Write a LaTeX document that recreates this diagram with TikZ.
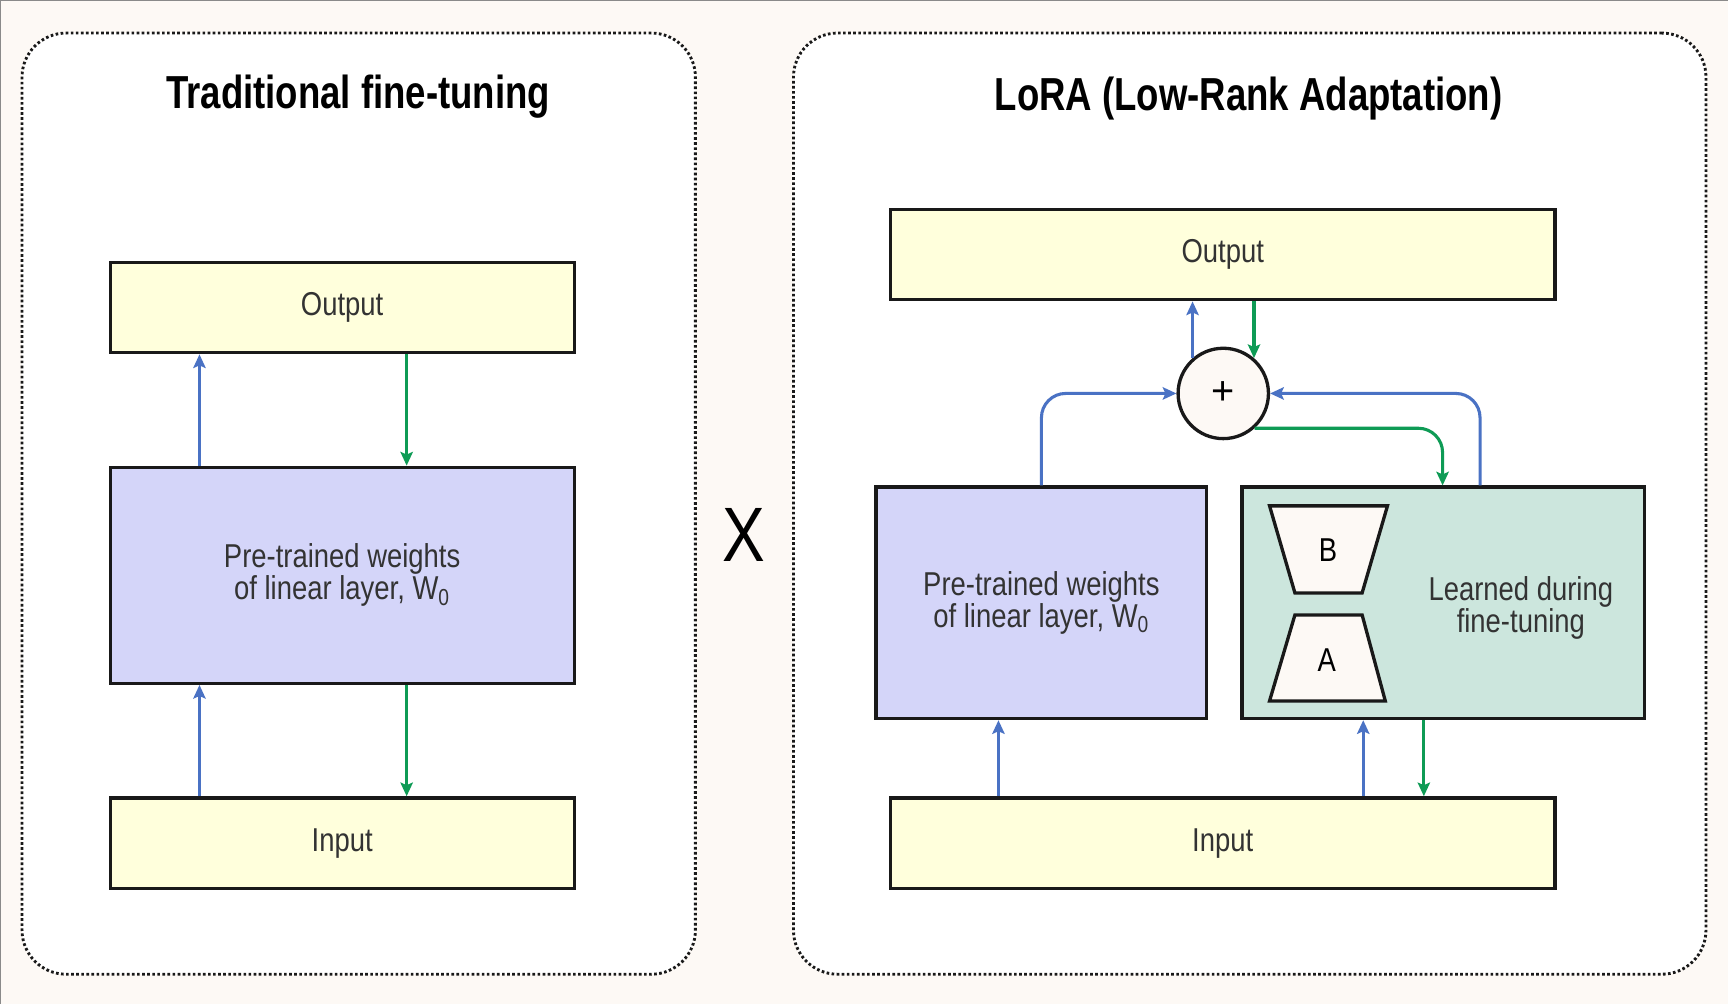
\documentclass[tikz,border=0pt]{standalone}
\usepackage{fontspec}
\setmainfont{Liberation Sans}
\newfontfamily\narrowfont[FakeStretch=0.83]{Liberation Sans}
\newfontfamily\titlefont[FakeStretch=0.79]{Liberation Sans}
\usetikzlibrary{arrows.meta,fit}
\definecolor{bgcream}{HTML}{FDF9F5}
\definecolor{ioyellow}{HTML}{FFFFDC}
\definecolor{lav}{HTML}{D4D5F9}
\definecolor{mint}{HTML}{CCE6DD}
\definecolor{txtgray}{HTML}{333333}
\definecolor{arrowblue}{HTML}{4A72C4}
\definecolor{arrowgreen}{HTML}{0E9B55}
\definecolor{framegray}{HTML}{8A8A8A}
\begin{document}
\begin{tikzpicture}[x=0.5pt,y=-0.5pt,
  panel/.style={draw=black!90, line width=1.3pt, dash pattern=on 1.2pt off 1.1pt, rounded corners=20pt, fill=white, inner sep=0pt},
  boxbase/.style={draw=black!90, line width=1.5pt, inner sep=0pt, text=txtgray, align=center, font=\narrowfont\fontsize{15}{14.5}\selectfont},
  iobox/.style={boxbase, fill=ioyellow},
  wbox/.style={boxbase, fill=lav},
  lbox/.style={boxbase, fill=mint},
  trap/.style={draw=black!90, line width=1.5pt, fill=bgcream, line join=miter},
  traplabel/.style={text=black, font=\narrowfont\fontsize{15}{15}\selectfont},
  titlestyle/.style={text=black, font=\titlefont\bfseries\fontsize{21}{25}\selectfont},
  tip/.style={-{Stealth[length=6.2pt,width=5.6pt,inset=1.2pt]}},
  bl/.style={draw=arrowblue, line width=1.4pt, tip},
  gr/.style={draw=arrowgreen, line width=1.4pt, tip},
  plusnode/.style={circle, draw=black!90, line width=1.5pt, fill=bgcream, minimum size=41pt, inner sep=0pt, font=\fontsize{18}{18}\selectfont}
]
\useasboundingbox (0,0) rectangle (1568,911);
\fill[bgcream] (0,0) rectangle (1568,911);
\draw[framegray, line width=1pt] (0,911) -- (0,0) -- (1568,0);

% panels
\node[panel, fit={(20,30) (631,884)}] (lpanel) {};
\node[panel, fit={(720,30) (1548,884)}] (rpanel) {};

% titles
\node[titlestyle] (t1) at (325,88) {Traditional fine-tuning};
\node[titlestyle] (t2) at (1133,89) {LoRA (Low-Rank Adaptation)};

% X
\node[text=black, font=\narrowfont\fontsize{35}{40}\selectfont] (times) at (675,485) {X};

% left column
\node[iobox, minimum width=210.5pt, minimum height=41pt] (out1) at (310.5,279) {Output};
\node[wbox, minimum width=210.5pt, minimum height=98pt] (w1) at (310.5,522) {Pre-trained weights\\of linear layer, W\textsubscript{0}};
\node[iobox, minimum width=210.5pt, minimum height=41pt] (in1) at (310.5,765) {Input};

\coordinate (xa) at (181,0);
\coordinate (xb) at (369,0);
\draw[bl] (w1.north -| xa) -- (out1.south -| xa);
\draw[gr] (out1.south -| xb) -- (w1.north -| xb);
\draw[bl] (in1.north -| xa) -- (w1.south -| xa);
\draw[gr] (w1.south -| xb) -- (in1.north -| xb);

% right column
\node[iobox, minimum width=301.5pt, minimum height=41pt] (out2) at (1109.5,231) {Output};
\node[wbox, minimum width=150pt, minimum height=105pt] (w2) at (945,547) {Pre-trained weights\\of linear layer, W\textsubscript{0}};
\node[lbox, minimum width=182.5pt, minimum height=105pt] (learn) at (1309.5,547) {};
\node[boxbase, draw=none, text=txtgray] (learntxt) at (1380,552) {Learned during\\fine-tuning};
\node[iobox, minimum width=301.5pt, minimum height=41pt] (in2) at (1109.5,765) {Input};
\node[plusnode] (plus) at (1110,357) {+};

% trapezoids
\draw[trap] (1152,459) -- (1259,459) -- (1236,538) -- (1175,538) -- cycle;
\node[traplabel] (lblB) at (1205,499) {B};
\draw[trap] (1175,558) -- (1236,558) -- (1257,636) -- (1152,636) -- cycle;
\node[traplabel] (lblA) at (1204,599) {A};

\coordinate (xc) at (906,0);
\coordinate (xd) at (1237,0);
\coordinate (xe) at (1292,0);
\coordinate (xf) at (945,0);
\coordinate (xg) at (1343,0);
\coordinate (xh) at (1309,0);

\draw[bl] (in2.north -| xc) -- (w2.south -| xc);
\draw[bl] (in2.north -| xd) -- (learn.south -| xd);
\draw[gr] (learn.south -| xe) -- (in2.north -| xe);

\draw[bl, rounded corners=11pt] (w2.north -| xf) |- (plus.west);
\draw[bl, rounded corners=11pt] (learn.north -| xg) |- (plus.east);
\draw[bl] (plus.131) -- (plus.131 |- out2.south);
\draw[gr] (plus.49 |- out2.south) -- (plus.49);
\draw[gr, rounded corners=11pt] (plus.-48) -| (learn.north -| xh);
\end{tikzpicture}
\end{document}
